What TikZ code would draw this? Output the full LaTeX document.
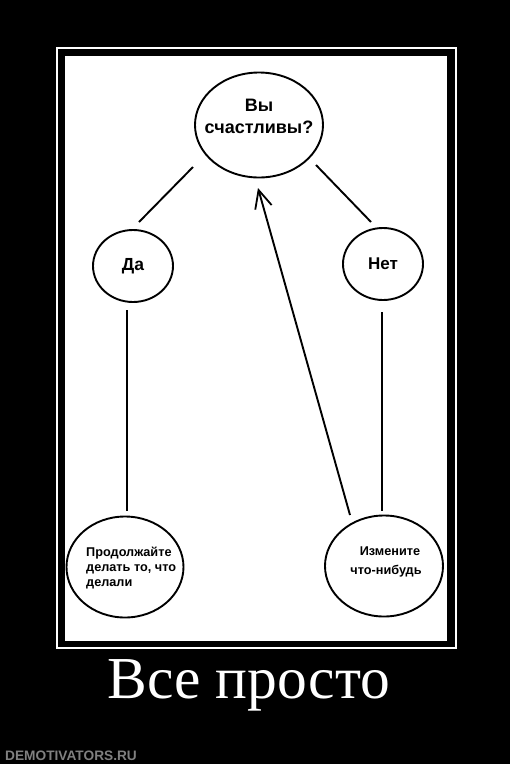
\documentclass[tikz,border=0pt]{standalone}
\usepackage{fontspec}
\setmainfont{Liberation Serif}
\newfontfamily\arialb{Liberation Sans}[BoldFont={* Bold}]
\usetikzlibrary{arrows.meta,shapes.geometric}
\tikzset{
  bubble/.style={draw=black, line width=1.9pt, ellipse, inner sep=0pt, font=\arialb\bfseries},
  label/.style={inner sep=0pt, font=\arialb\bfseries},
  link/.style={draw=black, line width=1.9pt},
}
\begin{document}
\begin{tikzpicture}[x=1pt,y=-1pt]
\useasboundingbox (0,0) rectangle (510,764);
\fill[black] (0,0) rectangle (510,764);
% frame
\draw[white, line width=1.8pt] (57,48) rectangle (456,648);
\fill[white] (65,56) rectangle (447,641);
% nodes
\node[bubble, minimum width=128pt, minimum height=105pt] (q) at (259,125) {};
\node[label, align=center, font=\arialb\bfseries\fontsize{18}{22}\selectfont] (qtxt) at (259,116) {Вы\\счастливы?};
\node[bubble, minimum width=80pt, minimum height=72pt, font=\arialb\bfseries\fontsize{17.5}{20}\selectfont] (yes) at (133,266) {Да};
\node[bubble, minimum width=80pt, minimum height=72pt, font=\arialb\bfseries\fontsize{17}{20}\selectfont] (no) at (383,264) {Нет};
\node[bubble, minimum width=117pt, minimum height=101pt] (cont) at (125,567) {};
\node[bubble, minimum width=118pt, minimum height=101pt] (chg) at (384,566) {};
\node[label, anchor=west, align=left, font=\arialb\bfseries\fontsize{12.7}{14.6}\selectfont] (conttxt) at (86,568) {Продолжайте\\делать то, что\\делали};
\node[label, align=center, font=\arialb\bfseries\fontsize{12.7}{19}\selectfont] (chgtxt) at (386,562) {\hspace*{8pt}Измените\\что-нибудь};
% connector endpoints
\coordinate (qL) at (193,167);
\coordinate (yT) at (139,222);
\coordinate (qR) at (316,165);
\coordinate (nT) at (371,222);
\coordinate (yB) at (127,310);
\coordinate (cT) at (127,511);
\coordinate (nB) at (382,312);
\coordinate (hT) at (382,511);
\coordinate (aS) at (350,515);
\coordinate (aE) at (258,188);
\draw[link] (qL) -- (yT);
\draw[link] (qR) -- (nT);
\draw[link] (yB) -- (cT);
\draw[link] (nB) -- (hT);
\draw[link, -{Straight Barb[length=18pt, width=17pt, line width=1.8pt]}] (aS) -- (aE);
% caption
\node[text=white, font=\fontsize{59.5}{64}\selectfont, anchor=base] (cap) at (249,698) {Все просто};
\node[text=black!50, font=\arialb\bfseries\fontsize{13.7}{15}\selectfont, anchor=west, inner sep=0pt] (wm) at (5,756) {DEMOTIVATORS.RU};
\end{tikzpicture}
\end{document}
